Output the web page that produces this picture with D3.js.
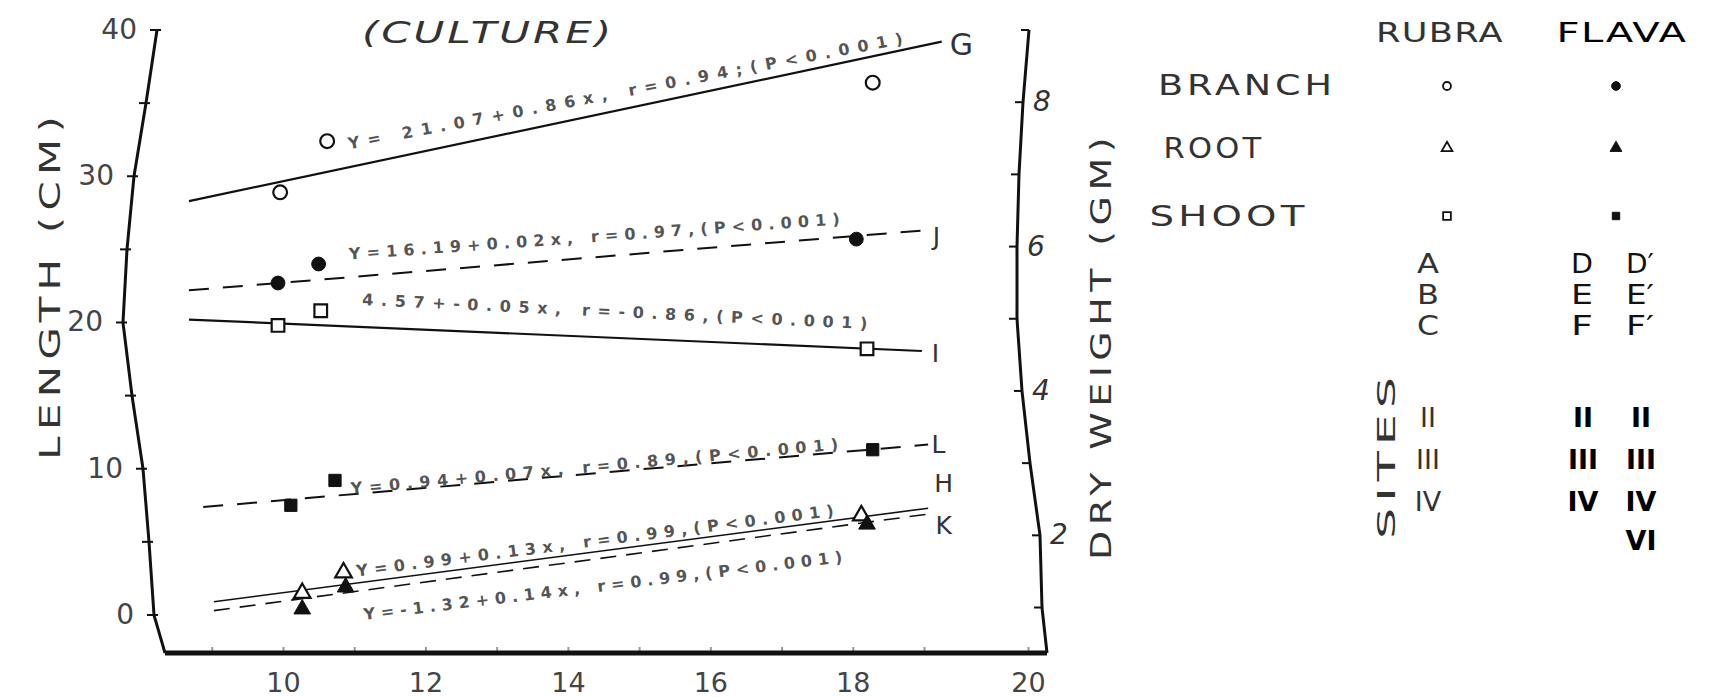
<!DOCTYPE html>
<html>
<head>
<meta charset="utf-8">
<script src="https://cdn.jsdelivr.net/npm/d3@7"></script>
<style>
  body { margin: 0; background: #fff; }
  svg text { font-family: "DejaVu Sans", sans-serif; }
</style>
</head>
<body>
<svg id="chart" width="1722" height="697"></svg>
<script>
// values (y = length cm)
const branchRubra = [[9.96, 28.9], [10.62, 32.4], [18.28, 36.4]]
const branchFlava = [[9.93, 22.7], [10.5, 24.0], [18.05, 25.7]]
const shootRubra = [[9.93, 19.8], [10.53, 20.8], [18.2, 18.2]]
const shootFlava = [[10.11, 7.5], [10.73, 9.2], [18.28, 11.3]]
const rootRubra = [[10.27, 1.5], [10.85, 2.9], [18.12, 6.8]]
const rootFlava = [[10.27, 0.4], [10.88, 1.9], [18.2, 6.2]]

// fitted lines: [x0, y0, x1, y1]
const lineIds = ['G', 'J', 'I', 'L', 'H', 'K']
const lineEnds = [
  [8.68, 28.3, 19.17, 39.2],
  [8.68, 22.2, 19.0, 26.3],
  [8.68, 20.2, 18.97, 18.05],
  [8.88, 7.38, 19.04, 11.65],
  [9.03, 0.9, 19.04, 7.3],
  [9.03, 0.3, 19.04, 6.9]
]
const equations = [
  'Y= 21.07+0.86x, r=0.94;(P<0.001)',
  'Y=16.19+0.02x, r=0.97,(P<0.001)',
  '4.57+-0.05x, r=-0.86,(P<0.001)',
  'Y=0.94+0.07x, r=0.89,(P<0.001)',
  'Y=0.99+0.13x, r=0.99,(P<0.001)',
  'Y=-1.32+0.14x, r=0.99,(P<0.001)'
]
// where each equation is written, in data units: [x0, y0, x1, y1]
const equationSpans = [
  [10.93, 31.85, 18.71, 39.05],
  [10.93, 24.3, 17.82, 26.7],
  [11.11, 21.2, 18.2, 19.55],
  [10.96, 8.27, 17.8, 11.3],
  [11.04, 2.63, 17.74, 6.77],
  [11.14, -0.35, 17.86, 3.6]
]
const lineLabelAt = [[19.36, 39.0], [19.12, 25.9], [19.11, 17.9], [19.14, 11.65], [19.19, 9.0], [19.19, 6.15]]

const xTicks = [9, 10, 11, 12, 13, 14, 15, 16, 17, 18, 19, 20]
const leftTicks = [0, 5, 10, 15, 20, 25, 30, 35, 40]
const rightTicks = [1, 2, 3, 4, 5, 6, 7, 8, 9]

const legendCols = ['RUBRA', 'FLAVA']
const legendRows = ['BRANCH', 'ROOT', 'SHOOT']
const rubraSites = ['A', 'B', 'C']
const flavaSites = [['D', 'D′'], ['E', 'E′'], ['F', 'F′']]
const rubraSiteNums = ['II', 'III', 'IV']
const flavaSiteNums = [['II', 'II'], ['III', 'III'], ['IV', 'IV'], ['', 'VI']]

const svg = d3.select('#chart')

// the scanned x axis is stretched in its last unit
const x = d3.scaleLinear().domain([8, 10, 19, 20, 20.27]).range([140.5, 283, 924, 1028, 1047])
const yL = d3.scaleLinear().domain([-2.6, 40]).range([653, 30])
const yR = d3.scaleLinear().domain([0.37, 9]).range([653, 30])

// the drawn vertical axes are bowed in the scan
const leftBow = d3.scaleLinear()
  .domain([-2.6, 0, 5, 10, 15, 20, 25, 30, 35, 40])
  .range([165, 154, 149, 143, 132, 123, 127, 134, 146, 157])
const rightBow = d3.scaleLinear()
  .domain([0.37, 1, 2, 3, 4, 5, 6, 7, 8, 9])
  .range([1047, 1042, 1040, 1030, 1022, 1017, 1017, 1019, 1023, 1029])

const ink = '#111'

// left axis
const gL = svg.append('g')
  .call(d3.axisLeft(yL).tickValues(leftTicks).tickSize(7).tickPadding(13)
    .tickFormat(d => d % 10 ? '' : d))
  .attr('font-size', 28).attr('font-family', null).attr('color', ink)
gL.select('.domain').remove()
gL.selectAll('.tick').attr('transform', d => `translate(${leftBow(d)},${yL(d)})`)
gL.selectAll('.tick line').attr('x1', 4).attr('stroke-width', 2)
gL.selectAll('.tick text').attr('fill', '#444')
svg.append('path')
  .attr('d', d3.line().x(v => leftBow(v)).y(v => yL(v)).curve(d3.curveCatmullRom)(d3.range(0, 101).map(i => -2.6 + i * 0.426)))
  .attr('fill', 'none').attr('stroke', ink).attr('stroke-width', 3)

// right axis
const gR = svg.append('g')
  .call(d3.axisRight(yR).tickValues(rightTicks).tickSizeInner(-8).tickSizeOuter(0).tickPadding(10)
    .tickFormat(d => d % 2 ? '' : d))
  .attr('font-size', 28).attr('font-family', null).attr('color', ink)
gR.select('.domain').remove()
gR.selectAll('.tick').attr('transform', d => `translate(${rightBow(d)},${yR(d)})`)
gR.selectAll('.tick line').attr('stroke-width', 2)
gR.selectAll('.tick text').attr('fill', '#333').attr('font-style', 'italic')
svg.append('path')
  .attr('d', d3.line().x(v => rightBow(v)).y(v => yR(v)).curve(d3.curveCatmullRom)(d3.range(0, 101).map(i => 0.37 + i * 0.0863)))
  .attr('fill', 'none').attr('stroke', ink).attr('stroke-width', 3)

// bottom axis
const gB = svg.append('g')
  .attr('transform', `translate(0,${yL(-2.6)})`)
  .call(d3.axisBottom(x).tickValues(xTicks).tickSizeInner(-6).tickSizeOuter(0).tickPadding(20)
    .tickFormat(d => d % 2 ? '' : d))
  .attr('font-size', 27).attr('font-family', null).attr('color', ink)
gB.select('.domain').remove()
gB.append('line')
  .attr('x1', leftBow(-2.6)).attr('x2', rightBow(0.37))
  .attr('stroke', ink).attr('stroke-width', 5)
gB.selectAll('.tick line').attr('stroke', '#999').attr('stroke-width', 2)
gB.selectAll('.tick text').attr('fill', '#444')

// stretched lettering, like the stencil letters of the original
function wideText(g, str, cx, cy, width, size, opts = {}) {
  const t = g.append('text')
    .text(str)
    .attr('font-size', size)
    .attr('letter-spacing', opts.spacing || 0)
    .attr('fill', opts.fill || '#333')
    .attr('text-anchor', 'middle')
    .attr('dominant-baseline', 'central')
  const w = t.node().getComputedTextLength()
  const rot = opts.rotate ? ' rotate(-90)' : ''
  t.attr('transform', `translate(${cx},${cy})${rot} scale(${width / w},1)`)
  return t
}

// axis titles
wideText(svg, 'LENGTH (CM)', 50, 285, 350, 28, { spacing: 4, rotate: true })
wideText(svg, 'DRY WEIGHT (GM)', 1101, 346, 428, 28, { spacing: 4, rotate: true })
wideText(svg, '(CULTURE)', 488, 33, 249, 30, { spacing: 2 }).attr('font-style', 'italic')

// fitted lines
const lineStyle = {
  G: { dash: null, width: 2.2 },
  J: { dash: '20,14', width: 2 },
  I: { dash: null, width: 2.2 },
  L: { dash: '20,14', width: 2 },
  H: { dash: null, width: 1.6 },
  K: { dash: '16,10', width: 1.6 }
}
const fits = lineIds.map((id, i) => ({
  id,
  pts: [[lineEnds[i][0], lineEnds[i][1]], [lineEnds[i][2], lineEnds[i][3]]],
  eq: equations[i],
  span: equationSpans[i],
  label: lineLabelAt[i]
}))
const fitLine = d3.line().x(d => x(d[0])).y(d => yL(d[1]))
svg.append('g').selectAll('path')
  .data(fits)
  .join('path')
  .attr('d', d => fitLine(d.pts))
  .attr('fill', 'none')
  .attr('stroke', ink)
  .attr('stroke-width', d => lineStyle[d.id].width)
  .attr('stroke-dasharray', d => lineStyle[d.id].dash)

// equations written along the lines
svg.append('g').selectAll('text')
  .data(fits)
  .join('text')
  .text(d => d.eq)
  .attr('transform', d => {
    const x0 = x(d.span[0]), y0 = yL(d.span[1]), x1 = x(d.span[2]), y1 = yL(d.span[3])
    const a = Math.atan2(y1 - y0, x1 - x0) * 180 / Math.PI
    return `translate(${x0},${y0}) rotate(${a})`
  })
  .attr('textLength', d => Math.hypot(x(d.span[2]) - x(d.span[0]), yL(d.span[3]) - yL(d.span[1])))
  .attr('lengthAdjust', 'spacing')
  .attr('font-size', 16).attr('font-weight', 'bold').attr('fill', '#555')

// line letters
svg.append('g').selectAll('text')
  .data(fits)
  .join('text')
  .text(d => d.id)
  .attr('x', d => x(d.label[0]))
  .attr('y', d => yL(d.label[1]))
  .attr('text-anchor', 'middle')
  .attr('dominant-baseline', 'central')
  .attr('font-size', d => d.id === 'G' ? 30 : 25)
  .attr('fill', '#333')

// points
const series = [
  { pts: branchRubra, type: d3.symbolCircle, size: 150, open: true },
  { pts: branchFlava, type: d3.symbolCircle, size: 150, open: false },
  { pts: shootRubra, type: d3.symbolSquare, size: 160, open: true },
  { pts: shootFlava, type: d3.symbolSquare, size: 150, open: false },
  { pts: rootRubra, type: d3.symbolTriangle, size: 120, open: true },
  { pts: rootFlava, type: d3.symbolTriangle, size: 120, open: false }
]
series.forEach(s => {
  svg.append('g').selectAll('path')
    .data(s.pts)
    .join('path')
    .attr('d', d3.symbol().type(s.type).size(s.size))
    .attr('transform', d => `translate(${x(d[0])},${yL(d[1])})`)
    .attr('fill', s.open ? '#fff' : ink)
    .attr('stroke', ink)
    .attr('stroke-width', s.open ? 2.2 : 1)
})

// legend
const lg = svg.append('g')
const colX = [1440, 1622]
const colW = [128, 131]
const symX = [1447, 1616]
const rowY = [86, 148, 216]
const rowX = [1247, 1214, 1229]
const rowW = [178, 101, 159]
legendCols.forEach((c, i) => wideText(lg, c, colX[i], 33, colW[i], 27, { fill: i ? '#000' : '#333', spacing: 1 }))
legendRows.forEach((r, i) => wideText(lg, r, rowX[i], rowY[i], rowW[i], 28, { spacing: 3 }))
const legendSyms = [
  [d3.symbolCircle, true, 50], [d3.symbolCircle, false, 60],
  [d3.symbolTriangle, true, 50], [d3.symbolTriangle, false, 60],
  [d3.symbolSquare, true, 60], [d3.symbolSquare, false, 55]
]
legendSyms.forEach((s, k) => {
  const row = Math.floor(k / 2), col = k % 2
  lg.append('path')
    .attr('d', d3.symbol().type(s[0]).size(s[2]))
    .attr('transform', `translate(${symX[col]},${rowY[row]})`)
    .attr('fill', s[1] ? '#fff' : ink)
    .attr('stroke', ink).attr('stroke-width', s[1] ? 1.8 : 1)
})

// sites
const siteY = [264, 295, 326]
rubraSites.forEach((t, i) => wideText(lg, t, 1428, siteY[i], 22, 26))
flavaSites.forEach((pair, i) => {
  pair.forEach((t, j) => wideText(lg, t, j ? 1640 : 1582, siteY[i], j ? 28 : 22, 26, { fill: '#111' }))
})
const numY = [417, 459, 501, 540]
rubraSiteNums.forEach((t, i) => {
  lg.append('text')
    .text(t)
    .attr('x', 1428).attr('y', numY[i])
    .attr('text-anchor', 'middle').attr('dominant-baseline', 'central')
    .attr('font-size', 27).attr('fill', '#333')
})
flavaSiteNums.forEach((pair, i) => {
  pair.forEach((t, j) => {
    lg.append('text')
      .text(t)
      .attr('x', j ? 1641 : 1583).attr('y', numY[i])
      .attr('text-anchor', 'middle').attr('dominant-baseline', 'central')
      .attr('font-size', 27).attr('font-weight', 'bold').attr('fill', '#000')
  })
})
wideText(lg, 'SITES', 1386, 455, 168, 25, { spacing: 3, rotate: true })
</script>
</body>
</html>
